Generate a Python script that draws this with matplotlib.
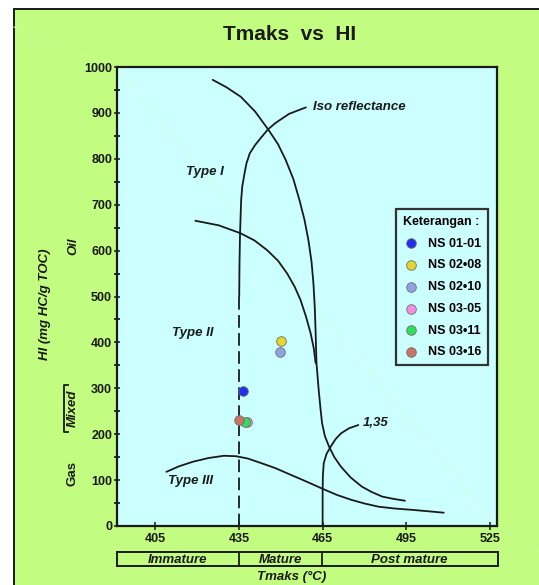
import matplotlib
matplotlib.use('Agg')
import matplotlib.pyplot as plt
from matplotlib.lines import Line2D
from matplotlib.patches import Rectangle

FONT = ['Liberation Sans Narrow', 'Liberation Sans', 'DejaVu Sans']
plt.rcParams['font.family'] = FONT
plt.rcParams['font.weight'] = 'bold'

GREEN = '#c2fc80'
CYAN = '#ccffff'
INK = '#1a1a1a'

# samples
sample_names = ['NS 01-01', 'NS 02\u202208', 'NS 02\u202210', 'NS 03-05', 'NS 03\u202211', 'NS 03\u202216']
sample_colors = ['#1f2ff0', '#e6d52a', '#8ea3e6', '#f28ee0', '#2ee05a', '#c97565']
tmax = [436.5, 450.1, 449.9, 438.0, 437.1, 435.2]
hi = [294, 402, 378, 226, 226, 231]

# kerogen type boundaries
type1_x = [425.6, 430.5, 435.7, 440.8, 445.6, 449.0, 451.8, 454.5, 456.7, 458.5, 459.9, 461.0,
           461.7, 462.2, 462.5, 462.8, 463.2, 463.6, 464.2, 464.8, 465.8, 467.3, 469.2,
           471.6, 475.0, 479.0, 482.6, 486.4, 490.5, 494.5]
type1_y = [972, 956, 935, 903, 863, 832, 797, 756, 710, 667, 623, 577,
           529, 475, 420, 355, 325, 296, 258, 224, 196, 173, 150,
           129, 106, 86, 74, 64, 59, 55]
type2_x = [419.4, 427.8, 435.5, 440.6, 445.1, 449.0, 452.3, 455.0, 457.1, 459.0, 460.7, 461.8, 462.5]
type2_y = [665, 655, 638, 622, 601, 578, 550, 521, 492, 457, 420, 388, 355]
type3_x = [409.0, 413.5, 418.5, 424.0, 429.6, 434.0, 438.2, 443.0, 448.1, 453.0, 458.0,
           465.4, 470.0, 475.3, 480.0, 485.1, 491.0, 497.5, 503.0, 508.4]
type3_y = [118, 130, 140, 148, 153, 152, 147, 137, 126, 113, 100,
           80, 68, 57, 49, 42, 38, 35, 32, 29]

# maturity limits
iso_x = [459.0, 453.0, 448.1, 445.4, 443.2, 440.8, 438.9, 437.7, 437.0, 436.2, 435.8, 435.4, 435.2, 435.1]
iso_y = [912, 898, 878, 864, 848, 830, 812, 790, 768, 740, 710, 638, 570, 500]
iso_dash_x = [435.1, 435.1]
iso_dash_y = [500, 0]
r135_x = [465.0, 465.0, 465.1, 465.4, 466.4, 467.9, 469.6, 471.6, 474.5, 477.8]
r135_y = [0, 78, 110, 137, 157, 173, 189, 202, 213, 220]

zones = ['Immature', 'Mature', 'Post mature']
zone_edges = [391.3, 435.1, 465.0, 527.5]

xticks = [405, 435, 465, 495, 525]
yticks = list(range(0, 1001, 100))

W, H = 539, 585


def fx(px):
    return px / W


def fy(py):
    return 1 - py / H


fig = plt.figure(figsize=(W / 100, H / 100), dpi=100)
fig.patch.set_facecolor('white')
fig.patches.append(Rectangle((fx(14), -0.01), 1.0, fy(9) + 0.01, transform=fig.transFigure,
                             facecolor=GREEN, edgecolor=INK, lw=1.4, zorder=-10))

ax = fig.add_axes([fx(117), fy(526), (497 - 117) / W, (526 - 67) / H])
ax.set_facecolor(CYAN)
ax.set_xlim(zone_edges[0], zone_edges[-1])
ax.set_ylim(0, 1000)

# faint streak running across the scanned figure
ax.plot([0, 1], [0.995, 0.0], transform=ax.transAxes, color='#d6ffe4', lw=0.8, zorder=0.5)
fig.add_artist(Line2D([fx(14), fx(117)], [fy(27), fy(70)], transform=fig.transFigure,
                      color='#c9fd90', lw=0.8, zorder=-5))
fig.add_artist(Line2D([fx(497), fx(539)], [fy(526), fy(552)], transform=fig.transFigure,
                      color='#c9fd90', lw=0.8, zorder=-5))

line_kw = dict(color=INK, lw=1.3, solid_capstyle='round')
ax.plot(type1_x, type1_y, **line_kw)
ax.plot(type2_x, type2_y, **line_kw)
ax.plot(type3_x, type3_y, **line_kw)
ax.plot(iso_x, iso_y, **line_kw)
ax.plot(iso_dash_x, iso_dash_y, color=INK, lw=1.3, dashes=(7, 3))
ax.plot(r135_x, r135_y, **line_kw)

for name, c, x, y in zip(sample_names, sample_colors, tmax, hi):
    ax.scatter(x, y, s=48, color=c, edgecolor='#707070', linewidth=0.6, zorder=5, label=name)

lab = dict(fontsize=9.5, fontweight='bold', style='italic', color=INK)
ax.text(422.8, 772, 'Type I', ha='center', va='center', **lab)
ax.text(418.5, 420, 'Type II', ha='center', va='center', **lab)
ax.text(417.8, 97, 'Type III', ha='center', va='center', **lab)
ax.text(461.5, 912, 'Iso reflectance', ha='left', va='center', **lab)
ax.text(479.5, 224, '1,35', ha='left', va='center', **lab)

ax.set_xticks(xticks)
ax.set_yticks(yticks)
ax.set_yticks(range(50, 1000, 100), minor=True)
ax.tick_params(axis='both', labelsize=9, colors=INK, width=1.1)
ax.tick_params(axis='x', direction='inout', length=6, pad=2)
ax.tick_params(axis='y', which='major', direction='inout', length=5, pad=1)
ax.tick_params(axis='y', which='minor', direction='inout', length=4, width=1.1)
for lbl in ax.get_xticklabels() + ax.get_yticklabels():
    lbl.set_fontweight('bold')
for s in ax.spines.values():
    s.set_linewidth(1.6)
    s.set_color(INK)

leg = ax.legend(title='Keterangan :', loc='upper left', bbox_to_anchor=(fx(396), fy(209)),
                bbox_transform=fig.transFigure, frameon=True, fancybox=False, alignment='left',
                prop=dict(size=9, weight='bold'), title_fontproperties=dict(size=9, weight='bold'),
                handletextpad=0.7, labelspacing=0.78, borderpad=0.55, handlelength=1.3,
                borderaxespad=0, scatterpoints=1, markerscale=1.0)
leg.get_frame().set_facecolor(CYAN)
leg.get_frame().set_edgecolor('#333333')
leg.get_frame().set_linewidth(1.6)
leg.get_frame().set_alpha(1)

# title and axis labels
fig.text(fx(290), fy(34), 'Tmaks  vs  HI', ha='center', va='center', fontsize=15,
         fontweight='bold', color=INK)
side = dict(rotation=90, ha='center', va='center', fontsize=9.5, fontweight='bold', color=INK)
fig.text(fx(45), fy(304), 'HI (mg HC/g TOC)', style='italic', **side)
fig.text(fx(73), fy(246), 'Oil', style='italic', **side)
fig.text(fx(73), fy(408), 'Mixed', style='italic', **side)
fig.text(fx(73), fy(473), 'Gas', **side)
fig.add_artist(Line2D([fx(68), fx(64), fx(64), fx(68)], [fy(385), fy(385), fy(432), fy(432)],
                      transform=fig.transFigure, color=INK, lw=1.3))
fig.text(fx(292), fy(577), 'Tmaks (\u00b0C)', ha='center', va='center', fontsize=9.5,
         fontweight='bold', style='italic', color=INK)

# maturity zone strip
zx = fig.add_axes([fx(117), fy(566), (498 - 117) / W, 14 / H])
zx.set_facecolor(GREEN)
zx.set_xlim(zone_edges[0], zone_edges[-1] + 0.7)
zx.set_ylim(0, 1)
zx.set_xticks([])
zx.set_yticks([])
for s in zx.spines.values():
    s.set_linewidth(1.4)
    s.set_color(INK)
for i, z in enumerate(zones):
    lo, hi_ = zone_edges[i], zone_edges[i + 1]
    if i > 0:
        zx.axvline(lo, color=INK, lw=1.3)
    zx.text((lo + hi_) / 2, 0.45, z, ha='center', va='center', fontsize=9.5,
            fontweight='bold', style='italic', color=INK)

fig.savefig('out.png', dpi=100, facecolor=fig.get_facecolor())
